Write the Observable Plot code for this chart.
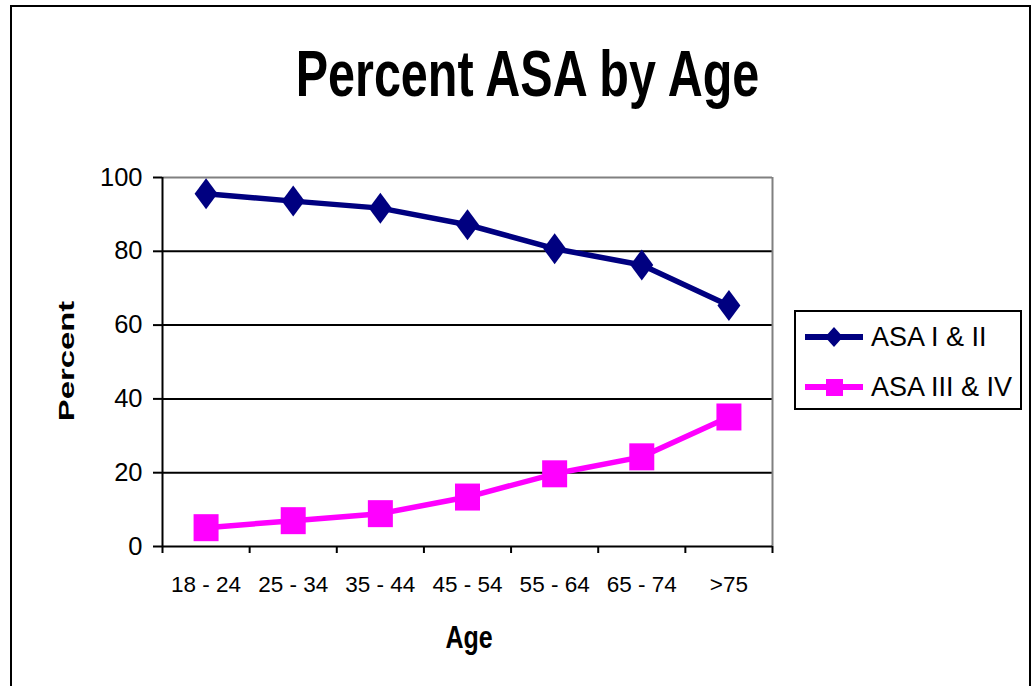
<!DOCTYPE html>
<html>
<head>
<meta charset="utf-8">
<script src="https://cdn.jsdelivr.net/npm/d3@7"></script>
<script src="https://cdn.jsdelivr.net/npm/@observablehq/plot@0.6"></script>
<style>
  html, body { margin: 0; padding: 0; background: #fff; overflow: hidden; }
  body { width: 1036px; height: 686px; position: relative; font-family: "Liberation Sans", Arial, sans-serif; }
  #frame { position: absolute; left: 10px; top: 5px; width: 1021px; height: 720px; border: 2px solid #000; box-sizing: border-box; }
  #title { position: absolute; left: 0; top: 41.6px; width: 1055px; text-align: center; font-weight: bold; font-size: 48.5px; line-height: 48.5px; color: #000; transform: scaleY(1.32); transform-origin: 0 0; white-space: nowrap; }
  #chart { position: absolute; left: 0; top: 0; }
  #legend { position: absolute; left: 794px; top: 310px; width: 228px; height: 100px; border: 2px solid #000; box-sizing: border-box; background: #fff; }
  .entry { position: absolute; left: 9px; height: 40px; display: flex; align-items: center; font-size: 27px; color: #000; white-space: nowrap; }
  .entry svg { margin-right: 8px; }
</style>
</head>
<body>
<div id="frame"></div>
<div id="chart"></div>
<div id="title">Percent ASA by Age</div>
<div id="legend"></div>
<script>
const categories = ["18 - 24", "25 - 34", "35 - 44", "45 - 54", "55 - 64", "65 - 74", ">75"];
const asaI_II = [95.6, 93.6, 91.7, 87.2, 80.7, 76.3, 65.3];
const asaIII_IV = [5.1, 7.0, 8.9, 13.4, 19.7, 24.3, 35.1];
const yTicks = [0, 20, 40, 60, 80, 100];
const seriesNames = ["ASA I & II", "ASA III & IV"];
const seriesColors = ["#000080", "#ff00ff"];

const diamond = {
  draw(ctx, size) {
    const r = Math.sqrt(size / Math.PI);
    const w = r * 0.74;
    ctx.moveTo(0, -r); ctx.lineTo(w, 0); ctx.lineTo(0, r); ctx.lineTo(-w, 0); ctx.closePath();
  }
};
const square = {
  draw(ctx, size) {
    const r = Math.sqrt(size / Math.PI);
    ctx.rect(-r, -r * 1.08, 2 * r, 2 * r * 1.08);
  }
};

const d1 = categories.map((c, i) => ({pos: i + 0.5, value: asaI_II[i]}));
const d2 = categories.map((c, i) => ({pos: i + 0.5, value: asaIII_IV[i]}));

const M = {left: 162, right: 264, top: 177, bottom: 140};

const plot = Plot.plot({
  width: 1036,
  height: 686,
  marginLeft: M.left,
  marginRight: M.right,
  marginTop: M.top,
  marginBottom: M.bottom,
  x: {domain: [0, categories.length]},
  y: {domain: [0, 100]},
  style: {fontFamily: "'Liberation Sans', Arial, sans-serif", fontSize: "22px", color: "#000", background: "transparent", overflow: "visible"},
  marks: [
    Plot.ruleY([20, 40, 60, 80], {stroke: "#000", strokeWidth: 2}),
    Plot.ruleY([100], {stroke: "#808080", strokeWidth: 2}),
    Plot.ruleX([categories.length], {stroke: "#808080", strokeWidth: 2}),
    Plot.ruleX([0], {stroke: "#000", strokeWidth: 2}),
    Plot.ruleY([0], {stroke: "#000", strokeWidth: 2}),
    Plot.axisY({ticks: yTicks, tickSize: 9, tickPadding: 11, strokeWidth: 2, strokeOpacity: 1, label: null, fontSize: 25.5}),
    Plot.axisX({ticks: d3.range(categories.length + 1), tickSize: 7, tickFormat: () => "", strokeWidth: 2, strokeOpacity: 1, label: null}),
    Plot.axisX({ticks: categories.map((c, i) => i + 0.5), tickSize: 0, tickPadding: 30, tickFormat: d => categories[Math.floor(d)], label: null, fontSize: 22.5}),
    Plot.text(["Percent"], {frameAnchor: "left", fontWeight: "bold", fontSize: 22.5}),
    Plot.text(["Age"], {frameAnchor: "bottom", fontWeight: "bold", fontSize: 25}),
    Plot.line(d1, {x: "pos", y: "value", stroke: seriesColors[0], strokeWidth: 5.5}),
    Plot.dot(d1, {x: "pos", y: "value", symbol: diamond, r: 15.5, fill: seriesColors[0], stroke: "none"}),
    Plot.line(d2, {x: "pos", y: "value", stroke: seriesColors[1], strokeWidth: 5.5}),
    Plot.dot(d2, {x: "pos", y: "value", symbol: square, r: 12.5, fill: seriesColors[1], stroke: "none"})
  ]
});
document.getElementById("chart").appendChild(plot);

// place and stretch the bold axis titles like the reference's condensed type
const ys = plot.scale("y").range;
const xs = plot.scale("x").range;
const cy = (ys[0] + ys[1]) / 2;
const cx = (xs[0] + xs[1]) / 2;
d3.select(plot).selectAll("text").each(function() {
  const t = this.textContent;
  if (t !== "Percent" && t !== "Age") return;
  this.removeAttribute("x");
  this.removeAttribute("y");
  this.setAttribute("text-anchor", "middle");
  this.setAttribute("dy", "0.36em");
  if (t === "Percent") this.setAttribute("transform", `translate(${M.left - 97},${cy - 1}) rotate(-90) scale(1.46,1)`);
  if (t === "Age") this.setAttribute("transform", `translate(${cx + 1.5},${ys[0] + 90}) scale(1,1.24)`);
});

const legend = document.getElementById("legend");
seriesNames.forEach((name, i) => {
  const e = document.createElement("div");
  e.className = "entry";
  e.style.top = (5 + i * 50) + "px";
  const marker = i === 0
    ? `<polygon points="29,7 38,17 29,27 20,17" fill="${seriesColors[i]}"/>`
    : `<rect x="21" y="9" width="17" height="17" fill="${seriesColors[i]}"/>`;
  e.innerHTML = `<svg width="58" height="34"><line x1="0" x2="58" y1="17" y2="17" stroke="${seriesColors[i]}" stroke-width="6"/>${marker}</svg><span>${name}</span>`;
  legend.appendChild(e);
});
</script>
</body>
</html>
